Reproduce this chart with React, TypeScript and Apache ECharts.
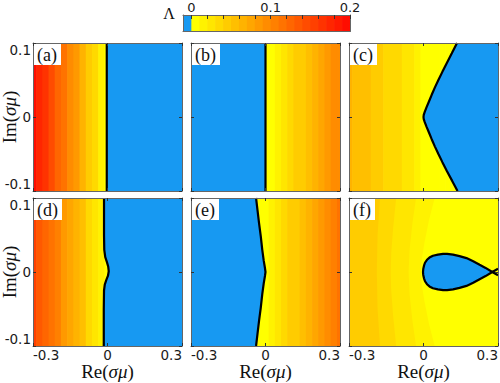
import React, { useEffect, useRef } from "react";
import * as echarts from "echarts";

// ---------------- data ----------------
// column centres (Re σμ) of the Λ field
const XS = [-0.3, -0.275, -0.25, -0.225, -0.2, -0.175, -0.15, -0.125, -0.1, -0.075, -0.05, -0.025, 0, 0.025, 0.05, 0.075, 0.1, 0.125, 0.15, 0.175, 0.2, 0.225, 0.25, 0.275, 0.3];

// Λ per column for panels whose field varies along Re only
const LAM_A = [0.192, 0.176, 0.16, 0.144, 0.128, 0.112, 0.097, 0.081, 0.065, 0.049, 0.033, 0.017, 0.002, -0.01, -0.01, -0.01, -0.01, -0.01, -0.01, -0.01, -0.01, -0.01, -0.01, -0.01, -0.01];
const LAM_B = [-0.01, -0.01, -0.01, -0.01, -0.01, -0.01, -0.01, -0.01, -0.01, -0.01, -0.01, -0.01, 0.0, 0.008, 0.016, 0.025, 0.033, 0.041, 0.049, 0.057, 0.066, 0.074, 0.082, 0.09, 0.099];
const LAM_C = [0.061, 0.057, 0.053, 0.05, 0.046, 0.043, 0.039, 0.035, 0.031, 0.026, 0.021, 0.014, 0.006, 0.004, 0.003, 0.002, 0.002, 0.002, 0.002, 0.002, 0.002, 0.002, 0.002, 0.002, 0.002];
const LAM_D = [0.152, 0.139, 0.126, 0.113, 0.1, 0.088, 0.075, 0.063, 0.05, 0.038, 0.025, 0.012, 0.001, -0.01, -0.01, -0.01, -0.01, -0.01, -0.01, -0.01, -0.01, -0.01, -0.01, -0.01, -0.01];
const LAM_E = [-0.01, -0.01, -0.01, -0.01, -0.01, -0.01, -0.01, -0.01, -0.01, -0.01, -0.01, 0.002, 0.006, 0.013, 0.022, 0.031, 0.04, 0.049, 0.058, 0.067, 0.076, 0.085, 0.094, 0.104, 0.116];

// panel (f): curved level boundaries (region left of each edge has Λ >= level)
const F_LEVELS = [0.0, 0.01, 0.02, 0.03, 0.04];
const F_EDGE_0 = [[0.3, 0.1], [0.3, -0.1]];
const F_EDGE_1 = [[0.045, 0.1], [0.022, 0.07], [0.004, 0.04], [-0.008, 0.015], [-0.01, 0], [-0.008, -0.015], [0.004, -0.04], [0.022, -0.07], [0.045, -0.1]];
const F_EDGE_2 = [[-0.03, 0.1], [-0.045, 0.065], [-0.056, 0.03], [-0.06, 0], [-0.056, -0.03], [-0.045, -0.065], [-0.03, -0.1]];
const F_EDGE_3 = [[-0.11, 0.1], [-0.122, 0.06], [-0.13, 0.025], [-0.132, 0], [-0.13, -0.025], [-0.122, -0.06], [-0.11, -0.1]];
const F_EDGE_4 = [[-0.175, 0.1], [-0.185, 0.05], [-0.188, 0], [-0.185, -0.05], [-0.175, -0.1]];
const F_EDGES = [F_EDGE_0, F_EDGE_1, F_EDGE_2, F_EDGE_3, F_EDGE_4];

// Λ = 0 contours (black lines), top to bottom
const CONTOUR_A = [[-0.003, 0.1], [-0.003, -0.1]];
const CONTOUR_B = [[0.0, 0.1], [0.0, -0.1]];
const CONTOUR_C = [[0.135, 0.1], [0.114, 0.086], [0.094, 0.073], [0.076, 0.061], [0.06, 0.05], [0.046, 0.04], [0.033, 0.03], [0.022, 0.021], [0.012, 0.013], [0.005, 0.007], [0.001, 0.003], [0.0, 0.0], [0.001, -0.003], [0.005, -0.007], [0.012, -0.013], [0.022, -0.021], [0.033, -0.03], [0.046, -0.04], [0.06, -0.05], [0.076, -0.061], [0.094, -0.073], [0.115, -0.086], [0.137, -0.1]];
const CONTOUR_D = [[-0.014, 0.1], [-0.014, 0.05], [-0.013, 0.03], [-0.009, 0.02], [-0.002, 0.013], [0.003, 0.007], [0.005, 0.001], [0.002, -0.005], [-0.005, -0.011], [-0.011, -0.017], [-0.014, -0.025], [-0.015, -0.05], [-0.015, -0.1]];
const CONTOUR_E = [[-0.038, 0.1], [-0.032, 0.083], [-0.026, 0.066], [-0.019, 0.048], [-0.013, 0.03], [-0.007, 0.015], [-0.002, 0.005], [0.0, 0.0], [-0.002, -0.005], [-0.007, -0.015], [-0.013, -0.03], [-0.019, -0.048], [-0.026, -0.066], [-0.032, -0.083], [-0.038, -0.1]];
const CONTOUR_F = [[0.3, -0.0044], [0.277, 0.0], [0.25, 0.0055], [0.226, 0.0097], [0.2, 0.0145], [0.173, 0.0188], [0.145, 0.0215], [0.119, 0.0235], [0.095, 0.0245], [0.079, 0.0245], [0.058, 0.0235], [0.038, 0.022], [0.024, 0.0195], [0.014, 0.0165], [0.006, 0.0125], [0.002, 0.0085], [-0.001, 0.004], [-0.002, 0.0], [-0.001, -0.004], [0.002, -0.0085], [0.006, -0.0125], [0.014, -0.0165], [0.024, -0.0195], [0.038, -0.022], [0.058, -0.0235], [0.079, -0.0245], [0.095, -0.0245], [0.119, -0.0235], [0.145, -0.0215], [0.173, -0.0188], [0.2, -0.0145], [0.226, -0.0097], [0.25, -0.0055], [0.277, 0.0], [0.3, 0.0044]];

const PANEL_NAMES = ["(a)", "(b)", "(c)", "(d)", "(e)", "(f)"];
const FIELDS = [LAM_A, LAM_B, LAM_C, LAM_D, LAM_E, null];
const CONTOURS = [CONTOUR_A, CONTOUR_B, CONTOUR_C, CONTOUR_D, CONTOUR_E, CONTOUR_F];
const BLUE_SIDES = ["right", "left", "right", "right", "left", "loop"];

const X_MIN = -0.3;
const X_MAX = 0.3;
const Y_MIN = -0.1;
const Y_MAX = 0.1;
const X_TICK = 0.3;
const Y_TICK = 0.1;

// colour bar
const CB_EDGES = [-0.0105, 0, 0.01, 0.02, 0.03, 0.04, 0.05, 0.06, 0.07, 0.08, 0.09, 0.1, 0.11, 0.12, 0.13, 0.14, 0.15, 0.16, 0.17, 0.18, 0.19, 0.2];
const CB_TICKS = [0, 0.02, 0.04, 0.06, 0.08, 0.1, 0.12, 0.14, 0.16, 0.18, 0.2];
const CB_LABELS = [0, 0.1, 0.2];
const LAMBDA_MAX = 0.2;
const LEVEL_STEP = 0.01;

// ---------------- layout / style ----------------
const COL_LEFT = [33, 191, 349];
const ROW_TOP = [43, 198];
const PW = 149;
const PH = 148;
const BLUE = "#1799f2";
const TICK_FONT = "DejaVu Sans";
const TICK_SIZE = 13.5;
const SERIF = "Liberation Serif";

function lamColor(v: number): string {
  if (v < 0) return BLUE;
  const k = Math.min(19, Math.floor(v / LEVEL_STEP + 1e-9));
  const g = Math.round(255 * (1 - (k * LEVEL_STEP) / LAMBDA_MAX));
  return `rgb(255,${g},0)`;
}

const nameStyle = {
  fontFamily: SERIF,
  fontSize: 19,
  color: "#111",
  rich: { i: { fontFamily: SERIF, fontSize: 19, fontStyle: "italic", color: "#111" } },
};

function buildOption() {
  const grid: any[] = [];
  const xAxis: any[] = [];
  const yAxis: any[] = [];
  const series: any[] = [];
  const graphic: any[] = [];
  const half = (XS[1] - XS[0]) / 2;

  const lineStyle = { color: "#666", width: 1 };
  const tickStyle = { color: "#333", width: 1 };

  for (let i = 0; i < 6; i++) {
    const col = i % 3;
    const row = Math.floor(i / 3);
    grid.push({ left: COL_LEFT[col], top: ROW_TOP[row], width: PW, height: PH, containLabel: false, outerBoundsMode: "none" });
    const showX = row === 1;
    const showY = col === 0;
    const xBase = {
      type: "value", gridIndex: i, min: X_MIN, max: X_MAX, interval: X_TICK, z: 5,
      axisLine: { show: true, onZero: false, lineStyle },
      axisTick: { show: true, inside: true, length: 3, lineStyle: tickStyle },
      splitLine: { show: false },
    };
    xAxis.push({
      ...xBase, position: "bottom",
      axisLabel: { show: showX, margin: 2, fontFamily: TICK_FONT, fontSize: TICK_SIZE, color: "#1a1a1a", alignMinLabel: "left", alignMaxLabel: "right" },
      name: showX ? "Re({i|σμ})" : "", nameLocation: "middle", nameGap: 16, nameMoveOverlap: false, nameTextStyle: nameStyle,
    });
    xAxis.push({ ...xBase, position: "top", axisLabel: { show: false } });
    const yBase = {
      type: "value", gridIndex: i, min: Y_MIN, max: Y_MAX, interval: Y_TICK, z: 5,
      axisLine: { show: true, onZero: false, lineStyle },
      axisTick: { show: true, inside: true, length: 3, lineStyle: tickStyle },
      splitLine: { show: false },
    };
    yAxis.push({
      ...yBase, position: "left",
      axisLabel: { show: showY, margin: 2, fontFamily: TICK_FONT, fontSize: TICK_SIZE, color: "#1a1a1a", verticalAlignMinLabel: "bottom", verticalAlignMaxLabel: "top" },
      name: showY ? "Im({i|σμ})" : "", nameLocation: "middle", nameGap: 14, nameMoveOverlap: false, nameTextStyle: nameStyle,
    });
    yAxis.push({ ...yBase, position: "right", axisLabel: { show: false } });

    const field = FIELDS[i];
    if (field) {
      series.push({
        type: "custom", xAxisIndex: 2 * i, yAxisIndex: 2 * i, z: 1, silent: true,
        encode: { x: 0, y: 1 },
        data: XS.map((x, j) => [x, 0, field[j]]),
        renderItem: (params: any, api: any) => {
          const x = api.value(0) as number;
          const v = api.value(2) as number;
          const cs = params.coordSys;
          const a = api.coord([x - half, Y_MAX]);
          const b = api.coord([x + half, Y_MIN]);
          const x0 = Math.max(a[0], cs.x);
          const x1 = Math.min(b[0] + 0.7, cs.x + cs.width);
          return { type: "rect", shape: { x: x0, y: a[1], width: x1 - x0, height: b[1] - a[1] }, style: { fill: lamColor(v) } };
        },
      });
    } else {
      series.push({
        type: "custom", xAxisIndex: 2 * i, yAxisIndex: 2 * i, z: 1, silent: true,
        encode: { x: 0, y: 1 },
        data: F_LEVELS.map((lv) => [0, 0, lv]),
        renderItem: (params: any, api: any) => {
          const v = api.value(2) as number;
          const edge = F_EDGES[params.dataIndex];
          const pts = [[X_MIN, Y_MAX], ...edge, [X_MIN, Y_MIN]].map((p) => api.coord(p));
          return { type: "polygon", shape: { points: pts }, style: { fill: lamColor(v) } };
        },
      });
    }

    const contour = CONTOURS[i];
    const side = BLUE_SIDES[i];
    let poly: number[][];
    if (side === "right") poly = [...contour, [X_MAX, Y_MIN], [X_MAX, Y_MAX]];
    else if (side === "left") poly = [...contour, [X_MIN, Y_MIN], [X_MIN, Y_MAX]];
    else poly = contour.slice(1, -1);
    series.push({
      type: "custom", xAxisIndex: 2 * i, yAxisIndex: 2 * i, z: 2, silent: true,
      encode: { x: 0, y: 1 },
      data: [[0, 0]],
      renderItem: (params: any, api: any) => ({
        type: "polygon",
        shape: { points: poly.map((p) => api.coord(p)) },
        style: { fill: BLUE },
      }),
    });
    series.push({
      type: "line", xAxisIndex: 2 * i, yAxisIndex: 2 * i, z: 3, silent: true,
      data: contour, symbol: "none", showSymbol: false,
      lineStyle: { color: "#000", width: 2.2 }, clip: true,
    });

    graphic.push({
      type: "text", z: 100,
      x: COL_LEFT[col] + 1, y: ROW_TOP[row] + 1,
      style: {
        text: PANEL_NAMES[i], font: `18px "${SERIF}"`, fill: "#111",
        backgroundColor: "#fff", padding: [2, 4, 1, 3],
      },
    });
  }

  // colour bar (grid 6)
  grid.push({ left: 183, top: 15, width: 167, height: 16.5, containLabel: false, outerBoundsMode: "none" });
  xAxis.push({
    type: "value", gridIndex: 6, position: "top", min: CB_EDGES[0], max: LAMBDA_MAX, z: 5,
    axisLine: { show: true, onZero: false, lineStyle },
    axisTick: { show: true, inside: true, length: 4, customValues: CB_TICKS, lineStyle: tickStyle },
    axisLabel: { show: true, margin: 1, customValues: CB_LABELS, fontFamily: TICK_FONT, fontSize: 13, color: "#1a1a1a" },
    splitLine: { show: false },
  });
  xAxis.push({
    type: "value", gridIndex: 6, position: "bottom", min: CB_EDGES[0], max: LAMBDA_MAX, z: 5,
    axisLine: { show: true, onZero: false, lineStyle },
    axisTick: { show: false }, axisLabel: { show: false }, splitLine: { show: false },
  });
  for (const pos of ["left", "right"]) {
    yAxis.push({
      type: "value", gridIndex: 6, position: pos, min: 0, max: 1, z: 5,
      axisLine: { show: true, onZero: false, lineStyle },
      axisTick: { show: false }, axisLabel: { show: false }, splitLine: { show: false },
    });
  }
  series.push({
    type: "custom", xAxisIndex: 12, yAxisIndex: 12, z: 1, silent: true,
    encode: { x: 0, y: 1 },
    data: CB_EDGES.slice(0, -1).map((lo, j) => [lo, 0, CB_EDGES[j + 1]]),
    renderItem: (params: any, api: any) => {
      const lo = api.value(0) as number;
      const hi = api.value(2) as number;
      const cs = params.coordSys;
      const a = api.coord([lo, 1]);
      const b = api.coord([hi, 0]);
      const x1 = Math.min(b[0] + 0.7, cs.x + cs.width);
      return { type: "rect", shape: { x: a[0], y: a[1], width: x1 - a[0], height: b[1] - a[1] }, style: { fill: lamColor(lo) } };
    },
  });

  graphic.push({
    type: "text", z: 100, x: 169, y: 13,
    style: { text: "Λ", font: `16px "${SERIF}"`, fill: "#111", align: "center", verticalAlign: "middle" },
  });

  return {
    animation: false,
    backgroundColor: "#fff",
    textStyle: { fontFamily: TICK_FONT },
    grid, xAxis, yAxis, series, graphic,
  };
}

export default function App() {
  const ref = useRef<HTMLDivElement>(null);
  useEffect(() => {
    const chart = echarts.init(ref.current!, null, { renderer: "svg" });
    chart.setOption(buildOption() as any);
    return () => chart.dispose();
  }, []);
  return <div ref={ref} style={{ position: "fixed", left: 0, top: 0, width: 500, height: 383, background: "#fff" }} />;
}
